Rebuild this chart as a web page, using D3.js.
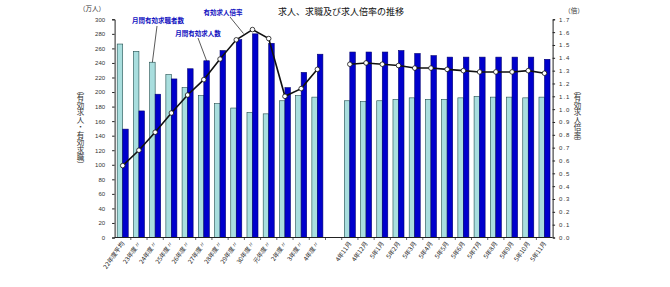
<!DOCTYPE html>
<html>
<head>
<meta charset="utf-8">
<script src="https://cdn.jsdelivr.net/npm/d3@7"></script>
<style>
  html, body { margin: 0; padding: 0; background: #fff; }
  svg text { font-family: "Noto Sans CJK JP", "Noto Sans", sans-serif; }
  .vtitle {
    font-family: "Noto Sans CJK JP", sans-serif;
    writing-mode: vertical-rl;
    font-size: 7.5px;
    line-height: 10px;
    color: #333;
    margin: 0;
  }
</style>
</head>
<body>
<svg class="graph" width="670" height="287"></svg>
<script>
// categories
const fyLabels = ["22年度平均", "23年度〃", "24年度〃", "25年度〃", "26年度〃", "27年度〃",
    "28年度〃", "29年度〃", "30年度〃", "元年度〃", "2年度〃", "3年度〃", "4年度〃"];
const monthLabels = ["4年11月", "4年12月", "5年1月", "5年2月", "5年3月", "5年4月", "5年5月",
    "5年6月", "5年7月", "5年8月", "5年9月", "5年10月", "5年11月"];

// 月間有効求職者数 (万人)
const seekersFY = [266, 256, 241, 224, 206, 195, 184, 178, 172, 170, 188, 195, 193];
const seekersMonth = [188, 187, 188, 190, 192, 190, 190, 192, 194, 193, 193, 192, 193];
// 月間有効求人数 (万人)
const openingsFY = [149, 174, 197, 218, 232, 243, 257, 272, 280, 267, 206, 227, 252];
const openingsMonth = [255, 255, 255, 257, 253, 250, 248, 248, 248, 248, 248, 248, 245];
// 有効求人倍率 (倍)
const ratioFY = [0.56, 0.68, 0.82, 0.97, 1.11, 1.23, 1.39, 1.54, 1.62, 1.55, 1.10, 1.16, 1.31];
const ratioMonth = [1.35, 1.36, 1.35, 1.34, 1.32, 1.32, 1.31, 1.30, 1.29, 1.29, 1.29, 1.30, 1.28];

const leftTicks = d3.range(0, 301, 20);
const rightTicks = d3.range(0, 17.5, 1).map(d => d / 10);

// colours
const lightFill = '#a9dede', lightStroke = '#1f4d4d';
const darkFill = '#0000cc', darkStroke = '#000070';
const noteColor = '#1010c0';

const svg = d3.select('svg.graph');

// plot frame
const x0 = 114.6, x1 = 552.6, yTop = 19.3, yBase = 237.5;

const gap = '__gap__';
const domain = [...fyLabels, gap, ...monthLabels];

const x = d3.scaleBand().domain(domain).range([x0, x1])
    .paddingInner(0.32).paddingOuter(0.16);
const xSub = d3.scaleBand().domain(['seekers', 'openings']).range([0, x.bandwidth()]);
const yL = d3.scaleLinear().domain([0, 300]).range([yBase, yTop]);
const yR = d3.scaleLinear().domain([0, 1.7]).range([yBase, yTop]);

const rows = [
    ...fyLabels.map((c, i) => ({ c, seekers: seekersFY[i], openings: openingsFY[i], ratio: ratioFY[i] })),
    ...monthLabels.map((c, i) => ({ c, seekers: seekersMonth[i], openings: openingsMonth[i], ratio: ratioMonth[i] }))
];
const cx = c => x(c) + x.bandwidth() / 2;

// title
svg.append('text')
    .attr('x', 341).attr('y', 15)
    .attr('text-anchor', 'middle')
    .attr('font-size', 9)
    .attr('fill', '#111')
    .text('求人、求職及び求人倍率の推移');

// unit labels
svg.append('text').attr('x', 92).attr('y', 11).attr('text-anchor', 'middle')
    .attr('font-size', 6.5).attr('fill', '#333').text('（万人）');
svg.append('text').attr('x', 574).attr('y', 13).attr('text-anchor', 'middle')
    .attr('font-size', 6.5).attr('fill', '#333').text('（倍）');

// vertical axis titles (HTML vertical writing keeps CJK glyphs upright)
[['（有効求人・有効求職）', 75], ['（有効求人倍率）', 572]].forEach(([txt, left]) => {
    svg.append('foreignObject')
        .attr('x', left).attr('y', 86)
        .attr('width', 10).attr('height', 100)
        .append('xhtml:div')
        .attr('class', 'vtitle')
        .text(txt);
});

// bars
const groups = svg.selectAll('g.cat').data(rows).enter().append('g')
    .attr('class', 'cat')
    .attr('transform', d => `translate(${x(d.c)},0)`);

groups.append('rect')
    .attr('x', xSub('seekers'))
    .attr('y', d => yL(d.seekers))
    .attr('width', xSub.bandwidth())
    .attr('height', d => yBase - yL(d.seekers))
    .attr('fill', lightFill)
    .attr('stroke', lightStroke)
    .attr('stroke-width', 0.6);

groups.append('rect')
    .attr('x', xSub('openings'))
    .attr('y', d => yL(d.openings))
    .attr('width', xSub.bandwidth())
    .attr('height', d => yBase - yL(d.openings))
    .attr('fill', darkFill)
    .attr('stroke', darkStroke)
    .attr('stroke-width', 0.6);

// left axis
const axL = svg.append('g')
    .attr('transform', `translate(${x0},0)`)
    .call(d3.axisLeft(yL).tickValues(leftTicks).tickSize(2.5).tickPadding(7).tickFormat(d3.format('d')));
axL.select('.domain').attr('stroke', '#222').attr('stroke-width', 1);
axL.selectAll('.tick line').attr('stroke', '#222');
axL.selectAll('text').attr('font-size', 6).attr('fill', '#333')
    .style('font-family', '"Liberation Sans", sans-serif');

// right axis
const axR = svg.append('g')
    .attr('transform', `translate(${x1},0)`)
    .call(d3.axisRight(yR).tickValues(rightTicks).tickSize(2.5).tickPadding(4).tickFormat(d3.format('.1f')));
axR.select('.domain').attr('stroke', '#222').attr('stroke-width', 1);
axR.selectAll('.tick line').attr('stroke', '#222');
axR.selectAll('text').attr('font-size', 6).attr('fill', '#333')
    .attr('letter-spacing', 1)
    .style('font-family', '"Liberation Sans", sans-serif');

// x axis line and ticks at slot boundaries
svg.append('line')
    .attr('x1', x0).attr('x2', x1)
    .attr('y1', yBase).attr('y2', yBase)
    .attr('stroke', '#222').attr('stroke-width', 1);
svg.append('g').selectAll('line')
    .data(domain.slice(1))
    .enter().append('line')
    .attr('x1', d => x(d) - x.step() * x.paddingInner() / 2)
    .attr('x2', d => x(d) - x.step() * x.paddingInner() / 2)
    .attr('y1', yBase).attr('y2', yBase + 2.5)
    .attr('stroke', '#222').attr('stroke-width', 0.7);

// x labels
svg.append('g').selectAll('text')
    .data(domain.filter(d => d !== gap))
    .enter().append('text')
    .attr('transform', d => `translate(${cx(d) + 2},${yBase + 6}) rotate(-55)`)
    .attr('text-anchor', 'end')
    .attr('font-size', 6.2)
    .attr('fill', '#222')
    .text(d => d);

// ratio lines (two segments, broken at the gap)
const line = d3.line().x(d => cx(d.c)).y(d => yR(d.ratio));
const segs = [rows.slice(0, fyLabels.length), rows.slice(fyLabels.length)];
svg.append('g').selectAll('path')
    .data(segs)
    .enter().append('path')
    .attr('d', line)
    .attr('fill', 'none')
    .attr('stroke', '#111')
    .attr('stroke-width', 1.6);
svg.append('g').selectAll('circle')
    .data(rows)
    .enter().append('circle')
    .attr('cx', d => cx(d.c))
    .attr('cy', d => yR(d.ratio))
    .attr('r', 2.3)
    .attr('fill', '#fff')
    .attr('stroke', '#111')
    .attr('stroke-width', 0.8);

// annotations
const notes = [
    { text: '月間有効求職者数', tx: 158, ty: 23, lx: 157, ly: 26,
      ex: x(fyLabels[2]) + xSub('seekers') + xSub.bandwidth() / 2, ey: yL(seekersFY[2]) },
    { text: '月間有効求人数', tx: 198, ty: 36, lx: 198, ly: 38,
      ex: x(fyLabels[5]) + xSub('openings') + xSub.bandwidth() / 2, ey: yL(openingsFY[5]) },
    { text: '有効求人倍率', tx: 223, ty: 15, lx: 230, ly: 17,
      ex: cx(fyLabels[8]) - 9, ey: yR(ratioFY[8]) + 4 }
];
const noteG = svg.append('g');
noteG.selectAll('line').data(notes).enter().append('line')
    .attr('x1', d => d.lx).attr('y1', d => d.ly)
    .attr('x2', d => d.ex).attr('y2', d => d.ey)
    .attr('stroke', '#111').attr('stroke-width', 0.7);
noteG.selectAll('text').data(notes).enter().append('text')
    .attr('x', d => d.tx).attr('y', d => d.ty)
    .attr('text-anchor', 'middle')
    .attr('font-size', 6.5)
    .attr('font-weight', 'bold')
    .attr('fill', noteColor)
    .text(d => d.text);
</script>
</body>
</html>
